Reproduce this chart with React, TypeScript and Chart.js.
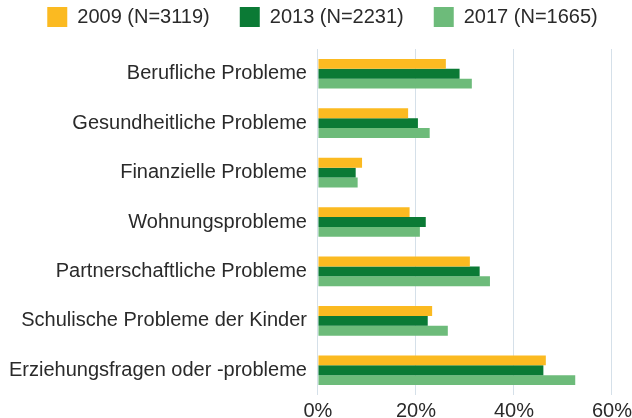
import React, { useEffect, useRef } from "react";
import { Chart, registerables } from "chart.js";

Chart.register(...registerables);

const categories = [
  "Berufliche Probleme",
  "Gesundheitliche Probleme",
  "Finanzielle Probleme",
  "Wohnungsprobleme",
  "Partnerschaftliche Probleme",
  "Schulische Probleme der Kinder",
  "Erziehungsfragen oder -probleme",
];

const series2009 = [26.1, 18.4, 9.0, 18.7, 31.0, 23.3, 46.5];
const series2013 = [28.9, 20.4, 7.7, 22.0, 33.0, 22.4, 46.0];
const series2017 = [31.4, 22.8, 8.1, 20.8, 35.1, 26.5, 52.5];

const seriesLabels = ["2009 (N=3119)", "2013 (N=2231)", "2017 (N=1665)"];
const xTicks = [0, 20, 40, 60];

const FONT = "'Liberation Sans', Arial, sans-serif";

export default function App() {
  const ref = useRef<HTMLCanvasElement | null>(null);

  useEffect(() => {
    document.body.style.margin = "0";
    const canvas = ref.current;
    if (!canvas) return;

    const legendMargin = {
      id: "legendMargin",
      beforeInit(chart: any) {
        const orig = chart.legend.fit;
        chart.legend.fit = function fit() {
          orig.bind(chart.legend)();
          this.height += 12;
        };
      },
    };

    const chart = new Chart(canvas, {
      type: "bar",
      data: {
        labels: categories,
        datasets: [
          { label: seriesLabels[0], data: series2009, backgroundColor: "#FBBA21" },
          { label: seriesLabels[1], data: series2013, backgroundColor: "#0B7A35" },
          { label: seriesLabels[2], data: series2017, backgroundColor: "#6DBB7A" },
        ],
      },
      options: {
        indexAxis: "y",
        animation: false,
        responsive: false,
        maintainAspectRatio: false,
        layout: { padding: { top: -23, left: 6, right: -7, bottom: -5 } },
        datasets: {
          bar: { categoryPercentage: 0.6, barPercentage: 1.0 },
        },
        plugins: {
          legend: {
            position: "top",
            labels: {
              boxWidth: 20,
              boxHeight: 20,
              padding: 30,
              color: "#2a2a2a",
              font: { family: FONT, size: 20 },
            },
          },
          tooltip: { enabled: false },
        },
        scales: {
          x: {
            min: 0,
            max: 60,
            afterBuildTicks(scale: any) {
              scale.ticks = xTicks.map((v) => ({ value: v }));
            },
            grid: {
              color: "#D5E0E9",
              drawTicks: true,
              tickLength: 4,
              tickColor: "rgba(0,0,0,0)",
              lineWidth: 1,
            },
            border: { display: false },
            ticks: {
              padding: 0,
              color: "#2a2a2a",
              font: { family: FONT, size: 20 },
              callback: (v: any) => v + "%",
            },
          },
          y: {
            grid: { display: false },
            border: { display: false },
            ticks: {
              padding: 3,
              color: "#2a2a2a",
              font: { family: FONT, size: 20 },
            },
          },
        },
      },
      plugins: [legendMargin],
    });

    return () => chart.destroy();
  }, []);

  return (
    <div style={{ position: "fixed", left: 0, top: 0, width: 632, height: 418 }}>
      <canvas ref={ref} width={632} height={418} style={{ width: 632, height: 418 }} />
    </div>
  );
}
